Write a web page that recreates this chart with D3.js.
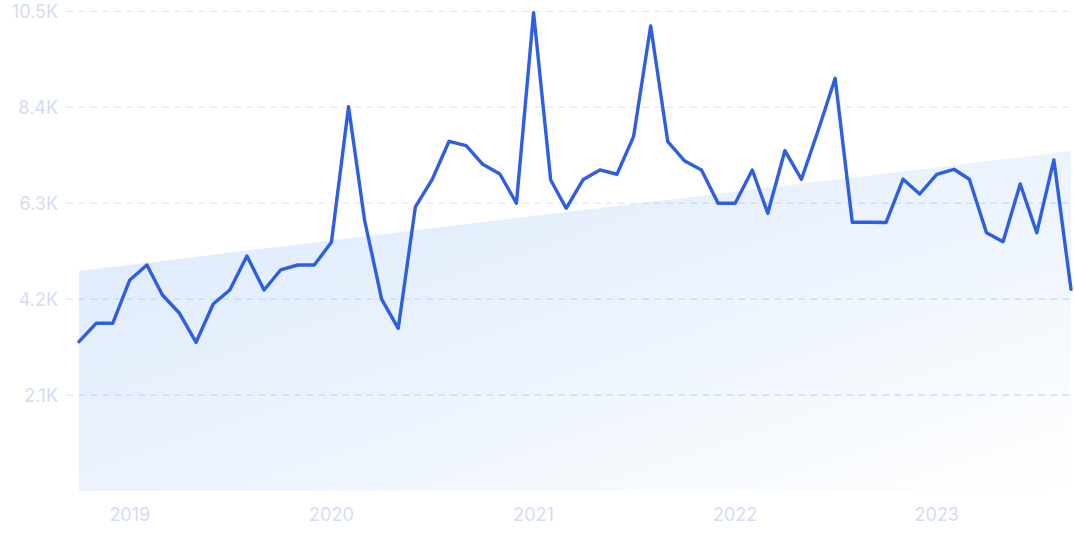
<!DOCTYPE html>
<html>
<head>
<meta charset="utf-8">
<script src="https://cdn.jsdelivr.net/npm/d3@7"></script>
<style>
  html, body { margin: 0; padding: 0; background: #ffffff; }
  svg { display: block; }
</style>
</head>
<body>
<svg id="chart" width="1075" height="537"></svg>
<script>
// ---- data ----
const startMonth = "2018-10";
const values = [
  3268, 3671, 3671, 4619, 4947, 4290, 3890, 3255, 4093, 4400,
  5144, 4400, 4838, 4947, 4947, 5444, 8412, 5932, 4196, 3561,
  6217, 6808, 7655, 7559, 7151, 6939, 6298, 10470, 6808, 6188,
  6819, 7027, 6933, 7756, 10179, 7646, 7230, 7027, 6298, 6298,
  7027, 6079, 7449, 6823, 7918, 9034, 5882, 5882, 5877, 6825,
  6501, 6933, 7042, 6823, 5654, 5457, 6720, 5654, 7246, 4415
];
const trendValues = [4816, 7442];
const yTicks = [2100, 4200, 6300, 8400, 10500];
const yTickLabels = ["2.1K", "4.2K", "6.3K", "8.4K", "10.5K"];
const xTickYears = [2019, 2020, 2021, 2022, 2023];

// ---- build ----
const parse = d3.timeParse("%Y-%m");
const t0 = parse(startMonth);
const data = values.map((v, i) => ({ date: d3.timeMonth.offset(t0, i), value: v }));
const tEnd = data[data.length - 1].date;

const svg = d3.select("#chart");
const mLeft = 79, mRight = 1071, mTop = 11.3, mBottom = 491;

const x = d3.scaleTime().domain([t0, tEnd]).range([mLeft, mRight]);
const y = d3.scaleLinear().domain([0, 10500]).range([mBottom, mTop]);

const defs = svg.append("defs");
const grad = defs.append("linearGradient")
  .attr("id", "areaGrad")
  .attr("x1", "0").attr("y1", "0").attr("x2", "1").attr("y2", "1");
grad.append("stop").attr("offset", "0%").attr("stop-color", "#dbe8fb");
grad.append("stop").attr("offset", "55%").attr("stop-color", "#edf4fd");
grad.append("stop").attr("offset", "100%").attr("stop-color", "#ffffff");

const trend = [
  { date: t0, value: trendValues[0] },
  { date: tEnd, value: trendValues[1] }
];
const areaGen = d3.area()
  .x(d => x(d.date))
  .y0(y(0))
  .y1(d => y(d.value));

defs.append("clipPath").attr("id", "areaClip")
  .append("path").attr("d", areaGen(trend));

svg.append("path")
  .attr("d", areaGen(trend))
  .attr("fill", "url(#areaGrad)");

// gridlines
const gridG = svg.append("g");
gridG.selectAll("line").data(yTicks).join("line")
  .attr("x1", 66).attr("x2", mRight)
  .attr("y1", d => y(d)).attr("y2", d => y(d))
  .attr("stroke", "#dde4f7")
  .attr("stroke-width", 1)
  .attr("stroke-dasharray", "7,5");
const gridIn = svg.append("g").attr("clip-path", "url(#areaClip)");
gridIn.selectAll("line").data(yTicks).join("line")
  .attr("x1", 66).attr("x2", mRight)
  .attr("y1", d => y(d)).attr("y2", d => y(d))
  .attr("stroke", "#bcdff9")
  .attr("stroke-width", 1)
  .attr("stroke-dasharray", "7,5");

// y labels
svg.append("g").selectAll("text").data(yTicks).join("text")
  .attr("x", 58)
  .attr("y", d => y(d))
  .attr("dy", "0.36em")
  .attr("text-anchor", "end")
  .attr("font-family", "Inter, 'Open Sans', sans-serif")
  .attr("font-size", 18)
  .attr("fill", "#d4dcf5")
  .text((d, i) => yTickLabels[i]);

// x labels
svg.append("g").selectAll("text").data(xTickYears).join("text")
  .attr("x", d => x(new Date(d, 0, 1)))
  .attr("y", 515)
  .attr("dy", "0.36em")
  .attr("text-anchor", "middle")
  .attr("font-family", "Inter, 'Open Sans', sans-serif")
  .attr("font-size", 18)
  .attr("fill", "#d4dcf5")
  .text(d => d);

// line
const lineGen = d3.line().x(d => x(d.date)).y(d => y(d.value));
svg.append("path")
  .datum(data)
  .attr("d", lineGen)
  .attr("fill", "none")
  .attr("stroke", "#2e5fe3")
  .attr("stroke-width", 3.4)
  .attr("stroke-linejoin", "round")
  .attr("stroke-linecap", "round");
</script>
</body>
</html>
